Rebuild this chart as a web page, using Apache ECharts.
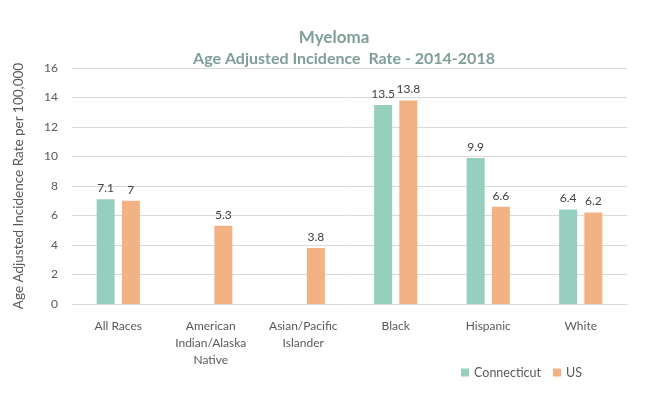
<!DOCTYPE html>
<html><head><meta charset="utf-8">
<script src="https://cdn.jsdelivr.net/npm/echarts@6/dist/echarts.min.js"></script>
<style>html,body{margin:0;padding:0;background:#fff}#c{width:647px;height:394px}</style>
</head><body><div id="c"></div>
<script>
var categories = ['All Races', 'American\nIndian/Alaska\nNative', 'Asian/Pacific\nIslander', 'Black', 'Hispanic', 'White'];
var connecticut = [7.1, null, null, 13.5, 9.9, 6.4];
var us = [7, 5.3, 3.8, 13.8, 6.6, 6.2];
var yTicks = {min: 0, max: 16, interval: 2};
var titleLines = ['Myeloma', 'Age Adjusted Incidence  Rate - 2014-2018'];

var chart = echarts.init(document.getElementById('c'));
var font = 'Lato, "Open Sans", sans-serif';
var titleStyle = {color: '#7f9e98', fontSize: 16, fontWeight: 'bold', fontFamily: font};
var titleStyle1 = {color: '#7f9e98', fontSize: 17, fontWeight: 'bold', fontFamily: font};
chart.setOption({
  animation: false,
  title: [
    {text: titleLines[0], left: 329, top: 24, textAlign: 'center', textStyle: titleStyle1},
    {text: titleLines[1], left: 339, top: 46, textAlign: 'center', textStyle: titleStyle}
  ],
  legend: {
    right: 60, top: 361, itemWidth: 8, itemHeight: 8, itemGap: 12,
    icon: 'rect',
    textStyle: {color: '#595959', fontSize: 12.5, fontFamily: font}
  },
  grid: {left: 72, right: 20, top: 68, bottom: 90},
  xAxis: {
    type: 'category', data: categories,
    axisLine: {lineStyle: {color: '#d9d9d9'}},
    axisTick: {show: false},
    axisLabel: {color: '#595959', fontSize: 12, fontFamily: font, lineHeight: 17, margin: 14, interval: 0}
  },
  yAxis: {
    type: 'value', min: yTicks.min, max: yTicks.max, interval: yTicks.interval,
    name: 'Age Adjusted Incidence Rate per 100,000',
    nameLocation: 'middle', nameGap: 46,
    nameTextStyle: {color: '#595959', fontSize: 13.5, fontFamily: font},
    axisLine: {show: false}, axisTick: {show: false},
    axisLabel: {color: '#595959', fontSize: 12, fontFamily: font, margin: 14},
    splitLine: {lineStyle: {color: '#d9d9d9'}}
  },
  series: [
    {name: 'Connecticut', type: 'bar', data: connecticut, barWidth: 18, barGap: '40%',
     itemStyle: {color: '#97cfbf'},
     label: {show: true, position: 'top', color: '#404040', fontSize: 12, fontFamily: font, distance: 5}},
    {name: 'US', type: 'bar', data: us, barWidth: 18,
     itemStyle: {color: '#f3b283'},
     label: {show: true, position: 'top', color: '#404040', fontSize: 12, fontFamily: font, distance: 5}}
  ]
});
</script></body></html>
